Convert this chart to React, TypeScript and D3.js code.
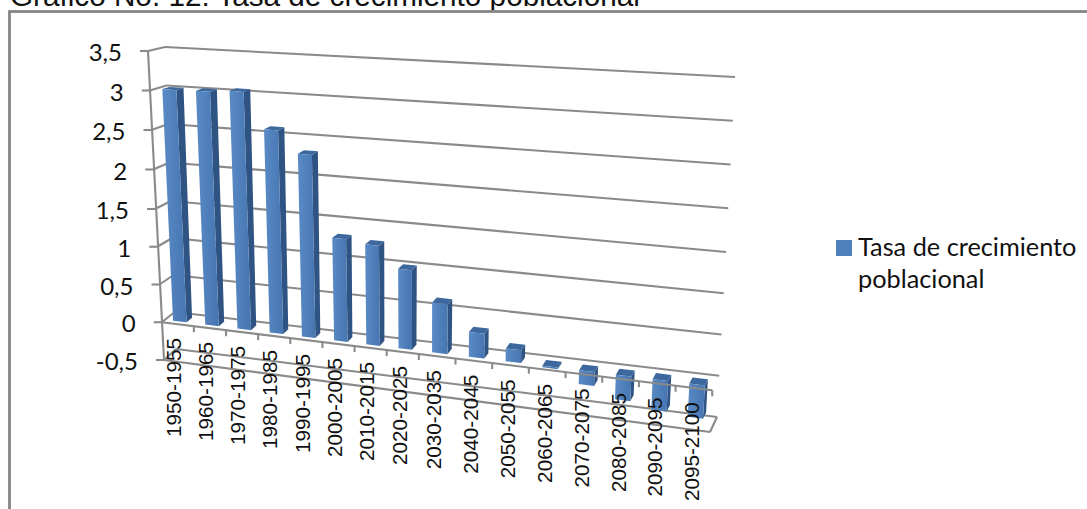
import * as d3 from "d3";

const categories = [
  "1950-1955", "1960-1965", "1970-1975", "1980-1985",
  "1990-1995", "2000-2005", "2010-2015", "2020-2025",
  "2030-2035", "2040-2045", "2050-2055", "2060-2065",
  "2070-2075", "2080-2085", "2090-2095", "2095-2100",
];
const growth = [3.01, 3.02, 3.05, 2.6, 2.33, 1.32, 1.28, 1.01, 0.63, 0.31, 0.16, -0.02, -0.17, -0.3, -0.37, -0.4];
const yTicks = [-0.5, 0, 0.5, 1, 1.5, 2, 2.5, 3, 3.5];
const seriesName = ["Tasa de crecimiento", "poblacional"];
const title = "Gráfico No. 12: Tasa de crecimiento poblacional";

const width = 1087;
const height = 509;
const gridColor = "#8a8a8a";

// the box of the 3D chart, four corners per value level
const vDomain = [-0.5, 1.5, 3.5];
const frontLeftX = d3.scaleLinear().domain(vDomain).range([164, 155, 148]);
const frontLeftY = d3.scaleLinear().domain(vDomain).range([360, 209, 51]);
const frontRightX = d3.scaleLinear().domain(vDomain).range([710, 719, 728]);
const frontRightY = d3.scaleLinear().domain(vDomain).range([432, 265, 92]);
const backLeftX = d3.scaleLinear().domain(vDomain).range([176, 171, 165]);
const backLeftY = d3.scaleLinear().domain(vDomain).range([349, 201, 47]);
const backRightX = d3.scaleLinear().domain(vDomain).range([717, 726, 735]);
const backRightY = d3.scaleLinear().domain(vDomain).range([417, 252, 77]);

// category position along the floor, spacing grows toward the viewer
const tScale = d3.scaleLinear().domain([0, 8, 16]).range([0, 0.467, 1]);
const band = d3.scaleBand<string>().domain(categories).range([0, 16]).paddingInner(0.58).paddingOuter(0.25);

function project(t: number, v: number, depth: number): [number, number] {
  const u = tScale(t);
  const fx = d3.interpolateNumber(frontLeftX(v), frontRightX(v))(u);
  const fy = d3.interpolateNumber(frontLeftY(v), frontRightY(v))(u);
  const bx = d3.interpolateNumber(backLeftX(v), backRightX(v))(u);
  const by = d3.interpolateNumber(backLeftY(v), backRightY(v))(u);
  return [fx + (bx - fx) * depth, fy + (by - fy) * depth];
}

const poly = (pts: [number, number][]) => pts.map((p) => p.join(",")).join(" ");
const segment = (a: [number, number], b: [number, number]) => ({ x1: a[0], y1: a[1], x2: b[0], y2: b[1] });

const depthFront = 0.25;
const depthBack = 0.68;

export default function App() {
  const bars = categories.map((c, i) => {
    const t0 = band(c)!;
    const t1 = t0 + band.bandwidth();
    const hi = Math.max(growth[i], 0);
    const lo = Math.min(growth[i], 0);
    return {
      key: c,
      face: poly([project(t0, hi, depthFront), project(t1, hi, depthFront), project(t1, lo, depthFront), project(t0, lo, depthFront)]),
      side: poly([project(t1, hi, depthFront), project(t1, hi, depthBack), project(t1, lo, depthBack), project(t1, lo, depthFront)]),
      top: poly([project(t0, hi, depthFront), project(t1, hi, depthFront), project(t1, hi, depthBack), project(t0, hi, depthBack)]),
    };
  });

  return (
    <svg
      width={width}
      height={height}
      viewBox={`0 0 ${width} ${height}`}
      style={{ position: "fixed", left: 0, top: 0, background: "#fff" }}
    >
      <defs>
        <linearGradient id="faceFill" x1="0" x2="1" y1="0" y2="0">
          <stop offset="0" stopColor="#5a8bc6" />
          <stop offset="1" stopColor="#4675b0" />
        </linearGradient>
      </defs>

      <text x={10} y={6} fontFamily="Liberation Sans" fontSize={29.7} fill="#111">{title}</text>
      <rect x={9.5} y={11.5} width={1100} height={520} fill="none" stroke="#868686" strokeWidth={2.8} />

      {/* back wall and side wall */}
      <g stroke={gridColor} strokeWidth={2.1} fill="none">
        {yTicks.map((v) => (
          <g key={v}>
            <line {...segment(project(0, v, 1), project(16, v, 1))} />
            <line {...segment(project(0, v, 0), project(0, v, 1))} />
            <line x1={frontLeftX(v) - 8} y1={frontLeftY(v)} x2={frontLeftX(v)} y2={frontLeftY(v)} />
          </g>
        ))}
        <line {...segment(project(0, 3.5, 0), project(0, -0.5, 0))} />
        <line {...segment(project(0, -0.5, 0), project(16, -0.5, 0))} />
        <line {...segment(project(16, -0.5, 0), project(16, -0.5, 1))} />
      </g>

      {bars.map((b) => (
        <g key={b.key}>
          <polygon points={b.side} fill="#2f5484" />
          <polygon points={b.top} fill="#3c689e" />
          <polygon points={b.face} fill="url(#faceFill)" />
        </g>
      ))}

      {/* zero axis sits over the bars */}
      <g stroke={gridColor} strokeWidth={2.1} fill="none">
        <line {...segment(project(0, 0, 0), project(16, 0, 0))} />
        {d3.range(1, 17).map((t) => {
          const p = project(t, 0, 0);
          return <line key={t} x1={p[0]} y1={p[1]} x2={p[0]} y2={p[1] + 6} />;
        })}
      </g>

      {yTicks.map((v) => (
        <text
          key={v}
          x={frontLeftX(v) - 26}
          y={frontLeftY(v) + 10}
          textAnchor="end"
          fontFamily="Lato"
          fontSize={24}
          fill="#111"
        >
          {String(v).replace(".", ",")}
        </text>
      ))}

      {categories.map((c) => {
        const t = band(c)! + band.bandwidth() / 2;
        const p = project(t, 0, 0);
        return (
          <text
            key={c}
            transform={`translate(${p[0] + 4},${p[1] + 14}) rotate(-90)`}
            textAnchor="end"
            fontFamily="Liberation Sans"
            fontSize={20.7}
            fill="#111"
          >
            {c}
          </text>
        );
      })}

      <rect x={836} y={240} width={16} height={16} fill="#4f81bd" />
      {seriesName.map((line, i) => (
        <text key={line} x={858} y={256 + i * 32} fontFamily="Lato" fontSize={25.3} fill="#111">{line}</text>
      ))}
    </svg>
  );
}
